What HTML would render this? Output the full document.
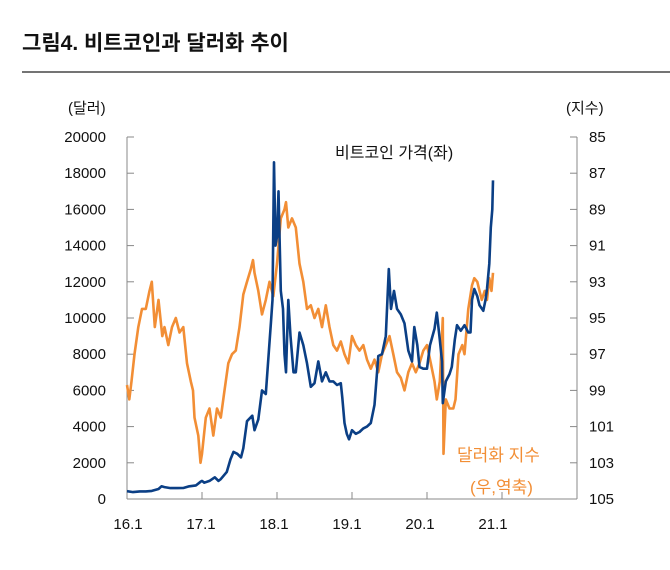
<!DOCTYPE html>
<html><head><meta charset="utf-8">
<style>
body{margin:0;background:#fff;}
svg text{font-family:"Liberation Sans","Noto Sans CJK KR",sans-serif;}
</style></head>
<body>
<svg width="670" height="565" viewBox="0 0 670 565" xmlns="http://www.w3.org/2000/svg">
<text x="22" y="50" font-size="21" font-weight="bold" fill="#111">그림4.  비트코인과 달러화 추이</text>
<line x1="22" y1="72" x2="670" y2="72" stroke="#222" stroke-width="1.2"/>
<text x="68" y="113" font-size="15" fill="#111">(달러)</text>
<text x="566" y="113" font-size="15" fill="#111">(지수)</text>
<g id="axes"></g>
<g id="series"></g>
<text x="335" y="158" font-size="16" fill="#111">비트코인 가격(좌)</text>
<text x="457" y="461" font-size="17" fill="#f28e35">달러화 지수</text>
<text x="470" y="493" font-size="17" fill="#f28e35">(우,역축)</text>
</svg>
<script>
const leftTicks=[0,2000,4000,6000,8000,10000,12000,14000,16000,18000,20000];
const rightTicks=[85,87,89,91,93,95,97,99,101,103,105];
const xTickLabels=["16.1","17.1","18.1","19.1","20.1","21.1"];
const btcT=[0,.08,.17,.25,.33,.42,.46,.5,.58,.67,.75,.83,.92,.98,1.0,1.03,1.1,1.17,1.22,1.25,1.33,1.38,1.42,1.47,1.52,1.55,1.6,1.67,1.7,1.75,1.8,1.85,1.88,1.92,1.94,1.96,1.98,2.0,2.02,2.05,2.08,2.1,2.12,2.15,2.18,2.22,2.25,2.3,2.35,2.4,2.45,2.5,2.55,2.6,2.65,2.7,2.75,2.8,2.85,2.87,2.9,2.93,2.96,3.0,3.05,3.1,3.15,3.2,3.25,3.3,3.35,3.4,3.45,3.49,3.52,3.56,3.6,3.65,3.7,3.75,3.8,3.83,3.87,3.9,3.95,4.0,4.04,4.1,4.13,4.17,4.2,4.21,4.25,4.3,4.33,4.37,4.4,4.45,4.5,4.55,4.58,4.6,4.63,4.67,4.7,4.75,4.78,4.8,4.83,4.85,4.87,4.88];
const btcV=[430,380,420,420,450,550,700,660,600,600,610,700,750,950,1000,900,1000,1200,1000,1100,1500,2200,2600,2500,2300,2800,4300,4600,3800,4400,6000,5800,7500,9800,11000,18600,14000,14500,17000,11500,10500,8000,7000,11000,9000,7000,7000,9200,8500,7500,6200,6400,7600,6500,7000,6500,6500,6300,6400,5600,4200,3600,3300,3800,3600,3700,3900,4000,4200,5200,7900,8000,9000,12700,10500,11500,10500,10200,9700,8200,7600,9500,8500,7300,7200,7200,8500,9400,10300,8800,7600,5300,6500,6900,7300,8800,9600,9300,9600,9200,9200,11000,11600,11200,10700,10400,11000,11600,13000,15000,16000,17600];
const dxyT=[0,.03,.06,.1,.15,.2,.25,.3,.33,.37,.42,.47,.5,.55,.6,.65,.7,.75,.8,.85,.88,.9,.95,.98,1.0,1.05,1.1,1.15,1.2,1.25,1.3,1.35,1.4,1.45,1.5,1.55,1.6,1.65,1.68,1.7,1.75,1.8,1.85,1.9,1.95,2.0,2.05,2.1,2.12,2.15,2.2,2.25,2.3,2.35,2.4,2.45,2.5,2.55,2.6,2.65,2.7,2.75,2.8,2.85,2.9,2.95,3.0,3.05,3.1,3.15,3.2,3.25,3.3,3.35,3.4,3.45,3.5,3.55,3.6,3.65,3.7,3.75,3.8,3.85,3.9,3.95,4.0,4.05,4.1,4.13,4.17,4.2,4.21,4.22,4.25,4.3,4.35,4.38,4.42,4.47,4.5,4.55,4.6,4.63,4.67,4.7,4.73,4.77,4.8,4.83,4.86,4.88];
const dxyV=[98.7,99.5,98.5,97,95.5,94.5,94.5,93.5,93,95.5,94,96,95.5,96.5,95.5,95,95.8,95.5,97.5,98.5,99,100.5,101.5,103,102.5,100.5,100,101.5,100,100.5,99,97.5,97,96.8,95.5,93.7,93,92.3,91.8,92.5,93.5,94.8,94,93,93.8,92,89.5,89,88.6,90,89.5,90,92,93,94.5,94.3,95,94.5,95.5,94.3,95.5,96.5,96.8,96.3,97,97.5,96,96.5,96.8,96.5,97.3,97.8,97.3,98,97,96.5,96,97,98,98.3,99,98,97.5,98,97.5,96.8,96.5,97.5,98.5,99.5,98.5,96,95,102.5,99.5,100,100,99.5,97,96.5,97,94.5,93.2,92.8,93,93.5,94,93.5,94,92.8,93.5,92.5];

const X0=127,X1=577,Y0=137,Y1=499;
const xs=t=>X0+t*75;
const yL=v=>Y1-(v/20000)*(Y1-Y0);
const yR=v=>Y0+((v-85)/20)*(Y1-Y0);
const NS="http://www.w3.org/2000/svg";
const axes=document.getElementById('axes'), series=document.getElementById('series');
function mk(tag,attrs,parent){const e=document.createElementNS(NS,tag);for(const k in attrs)e.setAttribute(k,attrs[k]);parent.appendChild(e);return e;}
let e;
e=mk('line',{x1:X0,y1:Y0,x2:X0,y2:Y1,stroke:'#888'},axes);


e=mk('line',{x1:X1,y1:Y0,x2:X1,y2:Y1,stroke:'#888'},axes);


e=mk('line',{x1:X0,y1:Y1,x2:X1,y2:Y1,stroke:'#888'},axes);


leftTicks.forEach(v=>{const y=yL(v);
 const l=mk('line',{x1:X0,y1:y,x2:X0+7,y2:y,stroke:'#888'},axes);
 
 
 const t=mk('text',{x:106,y:y+5,'text-anchor':'end','font-size':15,fill:'#111'},axes);t.textContent=v;
 
 });
rightTicks.forEach(v=>{const y=yR(v);
 const l=mk('line',{x1:X1-7,y1:y,x2:X1,y2:y,stroke:'#888'},axes);
 
 
 const t=mk('text',{x:589,y:y+5,'font-size':15,fill:'#111'},axes);t.textContent=v;
 
 });
xTickLabels.forEach((s,i)=>{const x=xs(i);
 const l=mk('line',{x1:x,y1:Y1-7,x2:x,y2:Y1,stroke:'#888'},axes);
 
 
 const t=mk('text',{x:128+73*i,y:529,'text-anchor':'middle','font-size':15,fill:'#111'},axes);t.textContent=s;
 
 });
const pd=dxyT.map((t,i)=>(i?'L':'M')+xs(t).toFixed(1)+' '+yR(dxyV[i]).toFixed(1)).join('');
e=mk('path',{d:pd,fill:'none',stroke:'#f28e35','stroke-width':2.6,'stroke-linejoin':'round'},series);


const pb=btcT.map((t,i)=>(i?'L':'M')+xs(t).toFixed(1)+' '+yL(btcV[i]).toFixed(1)).join('');
e=mk('path',{d:pb,fill:'none',stroke:'#0b3f85','stroke-width':2.6,'stroke-linejoin':'round'},series);


</script>
</body></html>
